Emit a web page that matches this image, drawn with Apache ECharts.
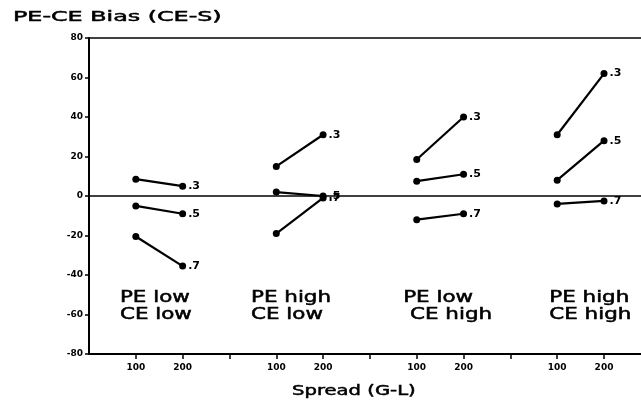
<!DOCTYPE html>
<html>
<head>
<meta charset="utf-8">
<script src="https://cdn.jsdelivr.net/npm/echarts@6/dist/echarts.min.js"></script>
<style>
  html, body { margin: 0; padding: 0; background: #fff; }
  #biasChart { width: 641px; height: 400px; }
</style>
</head>
<body>
<div id="biasChart"></div>
<script>
// x positions of the 100 / 200 spread points in each panel
var spreadPos = [[1, 2], [4, 5], [7, 8], [10, 11]];
var tickLabels = { 1: '100', 2: '200', 4: '100', 5: '200', 7: '100', 8: '200', 10: '100', 11: '200' };

// bias values per panel, [at 100, at 200]
var bias03 = [[8.5, 5], [15, 31], [18.5, 40], [31, 62]];
var bias05 = [[-5, -9], [2, 0], [7.5, 11], [8, 28]];
var bias07 = [[-20.5, -35.5], [-19, -1], [-12, -9], [-4, -2.5]];
var levelNames = ['.3', '.5', '.7'];

// panel captions and where they sit (data coords, left edge / middle)
var panelNames = ['PE low\nCE low', 'PE high\nCE low', 'PE low\n CE high', 'PE high\nCE high'];
var panelAnchor = [[0.66, -56], [3.46, -56], [6.71, -56], [9.83, -56]];

var titleText = 'PE-CE Bias (CE-S)';
var xName = 'Spread (G-L)';

var dom = document.getElementById('biasChart');
var myChart = echarts.init(dom);

var fontMain = '"DejaVu Sans", sans-serif';
var series = [];

[bias03, bias05, bias07].forEach(function(level, li) {
    level.forEach(function(pair, gi) {
        series.push({
            type: 'line',
            silent: true,
            animation: false,
            symbol: 'circle',
            symbolSize: 7,
            itemStyle: { color: '#000' },
            lineStyle: { color: '#000', width: 2.2 },
            data: [
                { value: [spreadPos[gi][0], pair[0]] },
                {
                    value: [spreadPos[gi][1], pair[1]],
                    label: {
                        show: true,
                        position: 'right',
                        distance: 2,
                        formatter: levelNames[li],
                        color: '#000',
                        fontSize: 11,
                        fontWeight: 'bold',
                        fontFamily: fontMain
                    }
                }
            ],
            z: 3
        });
    });
});

// zero reference line
series.push({
    type: 'line',
    silent: true,
    animation: false,
    symbol: 'none',
    lineStyle: { color: '#000', width: 1.5 },
    data: [[0, 0], [11.79, 0]],
    z: 2
});

var option = {
    backgroundColor: '#fff',
    animation: false,
    grid: { left: 89, top: 38, right: 0, bottom: 46 },
    xAxis: {
        type: 'value',
        min: 0,
        max: 11.79,
        interval: 1,
        splitLine: { show: false },
        axisLine: { onZero: false, lineStyle: { color: '#000', width: 2 } },
        axisTick: {
            show: true,
            length: 5,
            lineStyle: { color: '#000', width: 1.5 },
            customValues: [1, 2, 3, 4, 5, 6, 7, 8, 9, 10, 11]
        },
        axisLabel: {
            color: '#000',
            fontSize: 9,
            fontWeight: 'bold',
            fontFamily: fontMain,
            margin: 9,
            showMinLabel: false,
            showMaxLabel: false,
            formatter: function(v) { return tickLabels[v] || ''; }
        }
    },
    yAxis: {
        type: 'value',
        min: -80,
        max: 80,
        interval: 20,
        splitLine: { show: false },
        axisLine: { onZero: false, lineStyle: { color: '#000', width: 2 } },
        axisTick: { show: true, length: 4, lineStyle: { color: '#000', width: 1.5 } },
        axisLabel: {
            color: '#000',
            fontSize: 9,
            fontWeight: 'bold',
            fontFamily: fontMain,
            margin: 6
        }
    },
    series: series
};

myChart.setOption(option, true);

// wide plotter-style lettering: regular text stretched sideways
function wideText(txt, x, y, size, sx, align, vAlign) {
    return {
        type: 'text',
        silent: true,
        x: x,
        y: y,
        scaleX: sx,
        style: {
            text: txt,
            fill: '#000',
            stroke: '#000',
            lineWidth: 0.5,
            fontSize: size,
            fontFamily: fontMain,
            lineHeight: 17,
            align: align,
            verticalAlign: vAlign
        }
    };
}

var topLeft = myChart.convertToPixel({ gridIndex: 0 }, [0, 80]);
var graphics = [{
    type: 'line',
    silent: true,
    shape: { x1: topLeft[0], y1: topLeft[1], x2: 641, y2: topLeft[1] },
    style: { stroke: '#000', lineWidth: 1.5 }
}];

graphics.push(wideText(titleText, 13, 17, 14, 1.7, 'left', 'middle'));
graphics.push(wideText(xName, 292, 391, 14, 1.4, 'left', 'middle'));

panelAnchor.forEach(function(p, i) {
    var px = myChart.convertToPixel({ gridIndex: 0 }, p);
    graphics.push(wideText(panelNames[i], px[0], px[1], 15, 1.43, 'left', 'middle'));
});

myChart.setOption({ graphic: graphics });

window.addEventListener('resize', function() {
    myChart.resize();
});
</script>
</body>
</html>
